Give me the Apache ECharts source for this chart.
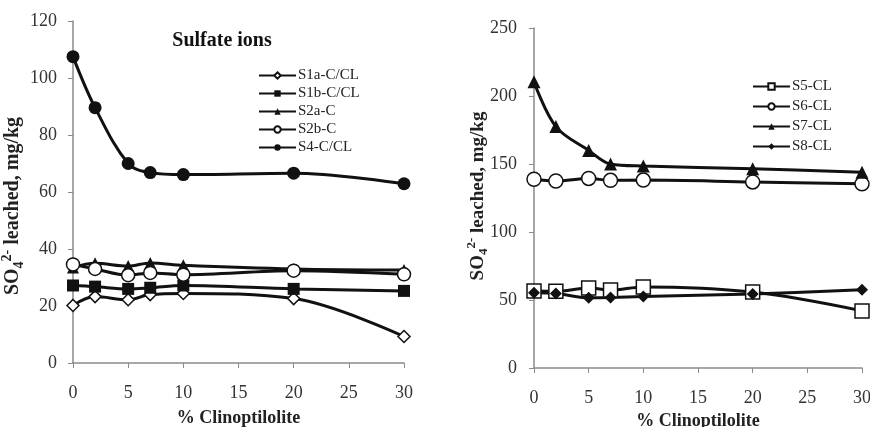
<!DOCTYPE html>
<html>
<head>
<meta charset="utf-8">
<script src="https://cdn.jsdelivr.net/npm/echarts@6/dist/echarts.min.js"></script>
<style>
  html, body { margin: 0; padding: 0; background: #fff; }
  #chart { width: 870px; height: 427px; }
</style>
</head>
<body>
<div id="chart"></div>
<script>
// x values (% clinoptilolite)
const clino = [0, 2, 5, 7, 10, 20, 30]

// left panel
const s1a = [20.2, 23.3, 22.2, 24, 24.4, 22.6, 9.3]
const s1b = [27.2, 26.8, 26, 26.4, 27.2, 26, 25.3]
const s2a = [33.5, 35, 34, 35.1, 34.3, 33, 32.6]
const s2b = [34.6, 33, 30.8, 31.6, 31, 32.4, 31.1]
const s4 = [107.5, 89.6, 70, 66.8, 66.1, 66.6, 62.9]

// right panel
const s5 = [56.6, 56.4, 58.8, 57.3, 59.6, 55.8, 42]
const s6 = [138.8, 137.5, 139.4, 138, 138.2, 136.8, 135.4]
const s7 = [210.5, 177.5, 160, 150, 148.5, 146.5, 144]
const s8 = [55.4, 54.8, 51.6, 51.8, 52.6, 54.4, 57.6]

const SERIF = 'Liberation Serif'
const INK = '#111'

function pts(ys) {
  return clino.map((x, i) => [x, ys[i]])
}

function line(name, ys, idx, symbol, size, open) {
  return {
    name: name,
    type: 'line',
    xAxisIndex: idx,
    yAxisIndex: idx,
    data: pts(ys),
    smooth: 0.35,
    symbol: symbol,
    symbolSize: size,
    showAllSymbol: true,
    lineStyle: { color: INK, width: 3 },
    itemStyle: open
      ? { color: '#fff', borderColor: INK, borderWidth: 1.5 }
      : { color: INK, borderColor: INK, borderWidth: 0 },
    emphasis: { disabled: true }
  }
}

function xAx(idx) {
  return {
    type: 'value',
    gridIndex: idx,
    min: 0, max: 30, interval: 5,
    name: '% Clinoptilolite',
    nameLocation: 'middle',
    nameGap: idx === 0 ? 46 : 36,
    nameTextStyle: { fontFamily: SERIF, fontWeight: 'bold', fontSize: 18, color: '#222' },
    axisLine: { lineStyle: { color: '#8a8a8a', width: 1.5 } },
    axisTick: { show: true, length: 5, lineStyle: { color: '#8a8a8a' } },
    axisLabel: { fontFamily: SERIF, fontSize: 18, color: '#333', margin: 21 },
    splitLine: { show: false }
  }
}

function yAx(idx, max, step) {
  return {
    type: 'value',
    gridIndex: idx,
    min: 0, max: max, interval: step,
    axisLine: { show: true, lineStyle: { color: '#8a8a8a', width: 1.5 } },
    axisTick: { show: true, length: 5, lineStyle: { color: '#8a8a8a' } },
    axisLabel: { fontFamily: SERIF, fontSize: 18, color: '#333', margin: idx === 0 ? 16 : 17 },
    splitLine: { show: false }
  }
}

// rotated y title with subscript / superscript
function yTitle(x, y, size) {
  return {
    type: 'text',
    x: x, y: y,
    rotation: Math.PI / 2,
    silent: true,
    style: {
      text: '{b|SO}{sub|4}{sup|2-}{b| leached, mg/kg}',
      align: 'center',
      verticalAlign: 'middle',
      rich: {
        b: { fontFamily: SERIF, fontWeight: 'bold', fontSize: size, lineHeight: size + 6, fill: '#222' },
        sub: { fontFamily: SERIF, fontWeight: 'bold', fontSize: size - 6, verticalAlign: 'bottom', lineHeight: size - 4, fill: '#222' },
        sup: { fontFamily: SERIF, fontWeight: 'bold', fontSize: size - 6, verticalAlign: 'top', lineHeight: size - 4, fill: '#222' }
      }
    }
  }
}

const chart = echarts.init(document.getElementById('chart'), null, { renderer: 'canvas' })

chart.setOption({
  backgroundColor: '#fff',
  animation: false,
  title: {
    text: 'Sulfate ions',
    left: 217, top: 26,
    textAlign: 'center',
    textStyle: { fontFamily: SERIF, fontWeight: 'bold', fontSize: 20, color: '#111' }
  },
  grid: [
    { left: 73, top: 21, width: 331, height: 342, outerBoundsMode: 'none' },
    { left: 534, top: 28, width: 328, height: 340, outerBoundsMode: 'none' }
  ],
  xAxis: [xAx(0), xAx(1)],
  yAxis: [yAx(0, 120, 20), yAx(1, 250, 50)],
  graphic: [
    yTitle(13, 206, 20),
    yTitle(478, 196, 19)
  ],
  legend: [
    {
      data: ['S1a-C/CL', 'S1b-C/CL', 'S2a-C', 'S2b-C', 'S4-C/CL'],
      orient: 'vertical',
      left: 253, top: 63,
      itemWidth: 37, itemHeight: 8, itemGap: 3,
      textStyle: { fontFamily: SERIF, fontSize: 15, color: '#222', padding: [0, 0, 0, -3] }
    },
    {
      data: ['S5-CL', 'S6-CL', 'S7-CL', 'S8-CL'],
      orient: 'vertical',
      left: 747, top: 74,
      itemWidth: 37, itemHeight: 8, itemGap: 5,
      textStyle: { fontFamily: SERIF, fontSize: 15, color: '#222', padding: [0, 0, 0, -3] }
    }
  ],
  series: [
    line('S1a-C/CL', s1a, 0, 'diamond', 12, true),
    line('S1b-C/CL', s1b, 0, 'rect', 12, false),
    line('S2a-C', s2a, 0, 'triangle', 12, false),
    line('S2b-C', s2b, 0, 'circle', 13, true),
    line('S4-C/CL', s4, 0, 'circle', 13, false),
    line('S5-CL', s5, 1, 'rect', 14, true),
    line('S6-CL', s6, 1, 'circle', 14, true),
    line('S7-CL', s7, 1, 'triangle', 13, false),
    line('S8-CL', s8, 1, 'diamond', 12, false)
  ]
})
</script>
</body>
</html>
